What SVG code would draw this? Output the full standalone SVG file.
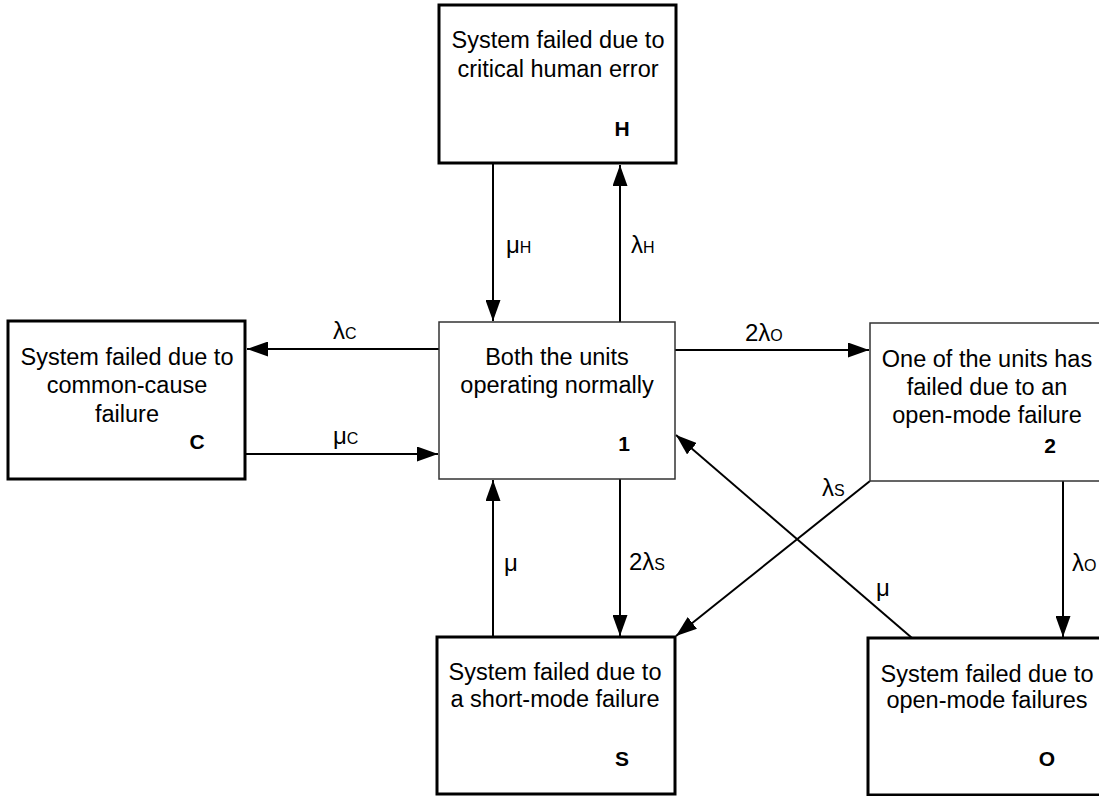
<svg xmlns="http://www.w3.org/2000/svg" width="1099" height="796" viewBox="0 0 1099 796">
<style>
  .t { font-family: "Liberation Sans", Arial, sans-serif; font-size: 23.5px; fill: #000; }
  .m { text-anchor: middle; }
  .l { font-family: "Liberation Sans", Arial, sans-serif; font-size: 24px; fill: #000; }
  .id { font-family: "Liberation Sans", Arial, sans-serif; font-size: 21px; font-weight: bold; text-anchor: middle; fill: #000; }
  .sub { font-size: 16px; }
  .thick { fill: #fff; stroke: #000; stroke-width: 3; }
  .thin { fill: #fff; stroke: #333; stroke-width: 1.5; }
  .c { stroke: #000; stroke-width: 2; fill: none; marker-end: url(#ah); }
</style>
<defs>
  <marker id="ah" markerUnits="userSpaceOnUse" markerWidth="21" markerHeight="15" refX="21" refY="7.5" orient="auto">
    <path d="M0,0 L21,7.5 L0,15 z" fill="#000"/>
  </marker>
</defs>
<rect x="0" y="0" width="1099" height="796" fill="#fff"/>

<g id="connectors">
  <line class="c" x1="493" y1="163" x2="493" y2="321"/>
  <line class="c" x1="620" y1="322" x2="620" y2="165"/>
  <line class="c" x1="439" y1="349" x2="247" y2="349"/>
  <line class="c" x1="245" y1="454" x2="438" y2="454"/>
  <line class="c" x1="675" y1="350" x2="869" y2="350"/>
  <line class="c" x1="620" y1="479" x2="620" y2="636"/>
  <line class="c" x1="493" y1="637" x2="493" y2="480"/>
  <line class="c" x1="870" y1="481" x2="676" y2="636"/>
  <line class="c" x1="912" y1="638" x2="676" y2="435"/>
  <line class="c" x1="1063" y1="481" x2="1063" y2="637"/>
  <text class="l" x="506" y="253">μ<tspan class="sub">H</tspan></text>
  <text class="l" x="631" y="253">λ<tspan class="sub">H</tspan></text>
  <text class="l" x="333" y="339">λ<tspan class="sub">C</tspan></text>
  <text class="l" x="333" y="444">μ<tspan class="sub">C</tspan></text>
  <text class="l" x="745" y="341">2λ<tspan class="sub">O</tspan></text>
  <text class="l" x="629" y="570">2λ<tspan class="sub">S</tspan></text>
  <text class="l" x="504" y="571">μ</text>
  <text class="l" x="822" y="496">λ<tspan class="sub">S</tspan></text>
  <text class="l" x="876" y="596">μ</text>
  <text class="l" x="1072" y="571">λ<tspan class="sub">O</tspan></text>
</g>

<g id="node-H">
  <rect class="thick" x="439" y="5" width="237" height="158"/>
  <text class="t m" x="558" y="48">System failed due to</text>
  <text class="t m" x="558" y="77">critical human error</text>
  <text class="id" x="622" y="136">H</text>
</g>

<g id="node-C">
  <rect class="thick" x="8" y="321" width="237" height="158"/>
  <text class="t m" x="127" y="365">System failed due to</text>
  <text class="t m" x="127" y="393">common-cause</text>
  <text class="t m" x="127" y="422">failure</text>
  <text class="id" x="197" y="449">C</text>
</g>

<g id="node-1">
  <rect class="thin" x="439" y="322" width="236" height="157"/>
  <text class="t m" x="557" y="365">Both the units</text>
  <text class="t m" x="557" y="393">operating normally</text>
  <text class="id" x="624" y="451">1</text>
</g>

<g id="node-2">
  <rect class="thin" x="870" y="323" width="236" height="158"/>
  <text class="t m" x="987" y="367">One of the units has</text>
  <text class="t m" x="987" y="395">failed due to an</text>
  <text class="t m" x="987" y="423">open-mode failure</text>
  <text class="id" x="1050" y="453">2</text>
</g>

<g id="node-S">
  <rect class="thick" x="437" y="637" width="238" height="157"/>
  <text class="t m" x="555" y="680">System failed due to</text>
  <text class="t m" x="555" y="707">a short-mode failure</text>
  <text class="id" x="622" y="766">S</text>
</g>

<g id="node-O">
  <rect class="thick" x="868" y="638" width="238" height="157"/>
  <text class="t m" x="987" y="682">System failed due to</text>
  <text class="t m" x="987" y="708">open-mode failures</text>
  <text class="id" x="1047" y="766">O</text>
</g>
</svg>
